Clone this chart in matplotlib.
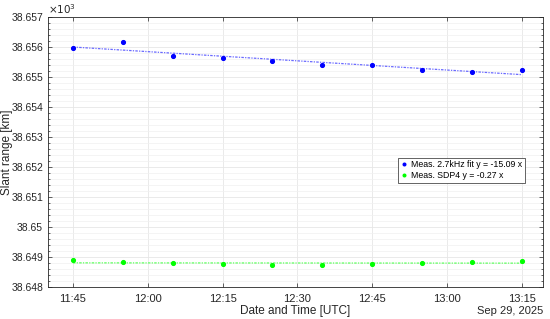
import numpy as np
import matplotlib.pyplot as plt
import matplotlib.dates as mdates
from matplotlib.ticker import MultipleLocator, FuncFormatter
import datetime as dt

plt.rcParams['font.family'] = ['Liberation Sans', 'DejaVu Sans']

# measurement times (UTC, Sep 29 2025)
times = ["11:45", "11:55", "12:05", "12:15", "12:25",
         "12:35", "12:45", "12:55", "13:05", "13:15"]
# slant range, units of 10^3 km
meas_27k = [38.65598, 38.65615, 38.65570, 38.65562, 38.65554,
            38.65539, 38.65539, 38.65523, 38.65516, 38.65523]
meas_sdp4 = [38.64890, 38.64883, 38.64879, 38.64876, 38.64873,
             38.64873, 38.64876, 38.64879, 38.64883, 38.64888]
label_27k = "Meas. 2.7kHz fit y = -15.09 x"
label_sdp4 = "Meas. SDP4 y = -0.27 x"

day = dt.datetime(2025, 9, 29)
t = [day + dt.timedelta(hours=int(s[:2]), minutes=int(s[3:])) for s in times]
tn = mdates.date2num(t)

fig = plt.figure(figsize=(5.5, 3.19), dpi=100)
ax = fig.add_axes([48/550, 1-287/319, (543-48)/550, (287-17)/319])

# linear fits
p1 = np.polyfit(tn - tn[0], meas_27k, 1)
p2 = np.polyfit(tn - tn[0], meas_sdp4, 1)
ax.plot(t, np.polyval(p1, tn - tn[0]), color='#6a6aff', lw=0.9, ls=(0, (2, 1, 1, 1)))
ax.plot(t, np.polyval(p2, tn - tn[0]), color='#60ff60', lw=0.9, ls=(0, (2, 1, 1, 1)))

h1, = ax.plot(t, meas_27k, 'o', color='#0000ff', ms=2.7, label=label_27k)
h2, = ax.plot(t, meas_sdp4, 'o', color='#00ff00', ms=2.7, label=label_sdp4)

ax.set_xlim(day + dt.timedelta(hours=11, minutes=40), day + dt.timedelta(hours=13, minutes=19, seconds=15))
ax.set_ylim(38.648, 38.657)
ax.xaxis.set_major_locator(mdates.MinuteLocator(byminute=[0, 15, 30, 45]))
ax.xaxis.set_major_formatter(mdates.DateFormatter('%H:%M'))
ax.yaxis.set_major_locator(MultipleLocator(0.001))
ax.yaxis.set_minor_locator(MultipleLocator(0.0002))
ax.yaxis.set_major_formatter(FuncFormatter(lambda v, p: ('%.3f' % v).rstrip('0').rstrip('.')))

ax.grid(True, which='major', color='#e6e6e6', lw=0.6)
ax.grid(True, which='minor', axis='y', color='#f0f0f0', lw=0.5)
ax.set_axisbelow(True)
for s in ax.spines.values():
    s.set_color('#262626')
    s.set_linewidth(0.6)
ax.tick_params(which='both', direction='in', colors='#262626', labelsize=7.5,
               top=True, right=True, length=3, width=0.5)
ax.tick_params(which='minor', length=1.5)
ax.tick_params(axis='x', pad=5, labelsize=8)

ax.set_xlabel("Date and Time [UTC]", fontsize=8.5, color='#262626', labelpad=1)
ax.set_ylabel("Slant range [km]", fontsize=8.5, color='#262626')
ax.yaxis.set_label_coords(-0.07, 0.5)
ax.text(0, 1.005, r'$\times10^3$', transform=ax.transAxes, fontsize=7.5, color='#262626',
        ha='left', va='bottom')
ax.text(1, -0.07, "Sep 29, 2025", transform=ax.transAxes, fontsize=8, color='#262626',
        ha='right', va='top')

ax.legend(handles=[h1, h2], loc='center right', bbox_to_anchor=(0.972, 0.433), fontsize=6.3,
          frameon=True, fancybox=False, edgecolor='#262626', framealpha=1,
          handlelength=0.8, handletextpad=0.4, borderpad=0.3, labelspacing=0.2, markerscale=0.7)
leg = ax.get_legend()
leg.get_frame().set_linewidth(0.5)

fig.savefig('out.png', dpi=100)
